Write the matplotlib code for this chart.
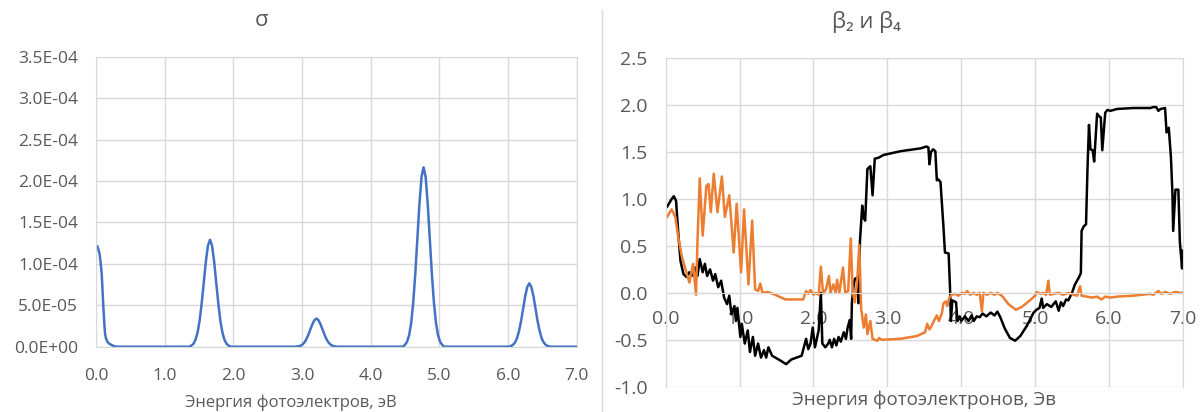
import numpy as np
import matplotlib
matplotlib.use('Agg')
import matplotlib.pyplot as plt
from matplotlib.ticker import FuncFormatter, MultipleLocator

plt.rcParams['font.family'] = ['Open Sans', 'DejaVu Sans']

# cross section, in units of 1e-4
sigma_x = [0.02, 0.05, 0.065, 0.083, 0.095, 0.107, 0.12, 0.131, 0.145, 0.165, 0.195, 0.228, 0.26, 0.30,
           1.36, 1.39, 1.42, 1.45, 1.48, 1.51, 1.54, 1.57, 1.60, 1.63, 1.66, 1.69, 1.72, 1.75, 1.78, 1.81,
           1.84, 1.87, 1.90, 1.93, 1.96,
           2.91, 2.94, 2.97, 3.00, 3.03, 3.06, 3.09, 3.12, 3.15, 3.18, 3.21, 3.24, 3.27, 3.30, 3.33, 3.36,
           3.39, 3.42, 3.45, 3.48, 3.51,
           4.47, 4.50, 4.53, 4.56, 4.59, 4.62, 4.65, 4.68, 4.71, 4.74, 4.77, 4.80, 4.83, 4.86, 4.89, 4.92,
           4.95, 4.98, 5.01, 5.04, 5.07,
           6.01, 6.04, 6.07, 6.10, 6.13, 6.16, 6.19, 6.22, 6.25, 6.28, 6.31, 6.34, 6.37, 6.40, 6.43, 6.46,
           6.49, 6.52, 6.55, 6.58, 6.61, 7.0]
sigma_e4 = [1.21, 1.13, 1.03, 0.885, 0.68, 0.48, 0.30, 0.16, 0.10, 0.06, 0.035, 0.02, 0.008, 0.0,
            0.0, 0.014, 0.036, 0.085, 0.174, 0.32, 0.53, 0.78, 1.03, 1.22, 1.29, 1.22, 1.03, 0.78, 0.53, 0.32,
            0.174, 0.085, 0.036, 0.014, 0.0,
            0.0, 0.004, 0.0095, 0.022, 0.046, 0.085, 0.14, 0.205, 0.27, 0.32, 0.34, 0.32, 0.27, 0.205, 0.14, 0.085,
            0.046, 0.022, 0.0095, 0.004, 0.0,
            0.0, 0.024, 0.06, 0.14, 0.29, 0.54, 0.89, 1.31, 1.73, 2.05, 2.165, 2.05, 1.73, 1.31, 0.89, 0.54,
            0.29, 0.14, 0.06, 0.024, 0.0,
            0.0, 0.008, 0.021, 0.05, 0.10, 0.19, 0.31, 0.46, 0.61, 0.72, 0.765, 0.72, 0.61, 0.46, 0.31, 0.19,
            0.10, 0.05, 0.021, 0.008, 0.0, 0.0]

# beta_2 (black)
b2_x = [0.02, 0.08, 0.11, 0.14, 0.17, 0.20, 0.24, 0.28, 0.32, 0.35, 0.40, 0.43, 0.46, 0.50, 0.53, 0.56,
        0.60, 0.64, 0.67, 0.71, 0.75, 0.79, 0.83, 0.86, 0.89, 0.93, 0.95, 0.97, 1.01, 1.03, 1.07, 1.11,
        1.14, 1.18, 1.21, 1.25, 1.29, 1.33, 1.36, 1.39, 1.44, 1.55, 1.63, 1.70, 1.77, 1.84, 1.87, 1.90,
        1.93, 1.96, 1.99, 2.02, 2.07, 2.10, 2.12, 2.16, 2.20, 2.22, 2.25, 2.28, 2.31, 2.34, 2.37, 2.41,
        2.44, 2.46, 2.49, 2.51, 2.52, 2.54, 2.56, 2.59, 2.61, 2.63, 2.66, 2.68, 2.70, 2.73, 2.77, 2.80,
        2.83, 2.88, 2.95, 3.18, 3.45, 3.53, 3.556, 3.57, 3.59, 3.62, 3.65, 3.67, 3.69, 3.72, 3.76, 3.78,
        3.83, 3.85, 3.86, 3.88, 3.93, 3.95, 3.98, 4.00, 4.05, 4.10, 4.14, 4.17, 4.21, 4.25, 4.29, 4.34,
        4.40, 4.45, 4.49, 4.53, 4.59, 4.66, 4.73, 4.80, 4.89, 4.98, 5.02, 5.06, 5.09, 5.11, 5.16, 5.22,
        5.25, 5.28, 5.32, 5.35, 5.38, 5.42, 5.45, 5.50, 5.54, 5.59, 5.62, 5.63, 5.66, 5.69, 5.71, 5.73,
        5.75, 5.78, 5.80, 5.84, 5.87, 5.89, 5.91, 5.95, 5.98, 6.02, 6.11, 6.33, 6.56, 6.60, 6.64, 6.67,
        6.70, 6.76, 6.78, 6.81, 6.84, 6.86, 6.87, 6.90, 6.94, 6.96, 6.99, 7.00]
b2_y = [0.92, 1.00, 1.03, 0.98, 0.63, 0.34, 0.20, 0.17, 0.22, 0.18, 0.27, 0.18, 0.36, 0.22, 0.31, 0.18,
        0.25, 0.13, 0.20, 0.06, 0.13, -0.05, -0.12, -0.03, -0.23, -0.14, -0.30, -0.16, -0.47, -0.33, -0.54, -0.40,
        -0.63, -0.47, -0.67, -0.54, -0.69, -0.61, -0.69, -0.58, -0.67, -0.72, -0.76, -0.71, -0.69, -0.67, -0.58, -0.49,
        -0.60, -0.54, -0.37, -0.58, -0.40, 0.00, -0.54, -0.58, -0.54, -0.50, -0.58, -0.49, -0.56, -0.47, -0.52, -0.42,
        -0.49, -0.38, -0.29, -0.49, -0.11, 0.06, 0.15, 0.16, -0.11, 0.56, 0.93, 0.80, 0.77, 1.32, 1.35, 1.04,
        1.43, 1.44, 1.47, 1.51, 1.54, 1.56, 1.55, 1.37, 1.50, 1.53, 1.51, 1.20, 1.21, 1.18, 0.70, 0.43,
        0.42, 0.02, -0.30, -0.08, -0.10, -0.30, -0.25, -0.30, -0.25, -0.30, -0.24, -0.30, -0.25, -0.26, -0.22, -0.25,
        -0.21, -0.24, -0.20, -0.26, -0.38, -0.48, -0.51, -0.46, -0.35, -0.21, -0.18, -0.16, -0.06, -0.16, -0.12, -0.15,
        -0.12, -0.09, -0.19, -0.10, -0.14, -0.07, -0.08, 0.00, 0.09, 0.16, 0.21, 0.66, 0.71, 0.73, 1.33, 1.79,
        1.53, 1.52, 1.40, 1.91, 1.88, 1.87, 1.52, 1.92, 1.95, 1.94, 1.96, 1.97, 1.97, 1.98, 1.98, 1.94,
        1.96, 1.97, 1.71, 1.76, 1.44, 1.05, 0.66, 1.10, 1.10, 0.55, 0.26, 0.45]

# beta_4 (orange)
b4_x = [0.02, 0.08, 0.13, 0.17, 0.22, 0.28, 0.32, 0.37, 0.41, 0.43, 0.46, 0.50, 0.55, 0.58, 0.61, 0.65,
        0.70, 0.76, 0.80, 0.86, 0.92, 0.96, 1.02, 1.06, 1.12, 1.17, 1.21, 1.25, 1.28, 1.31, 1.38, 1.48,
        1.62, 1.86, 1.90, 1.93, 1.96, 2.00, 2.03, 2.07, 2.10, 2.13, 2.17, 2.21, 2.23, 2.27, 2.30, 2.32,
        2.35, 2.40, 2.43, 2.47, 2.505, 2.53, 2.56, 2.595, 2.62, 2.645, 2.68, 2.71, 2.73, 2.77, 2.80, 2.865,
        2.89, 2.92, 3.17, 3.40, 3.51, 3.54, 3.57, 3.60, 3.63, 3.67, 3.70, 3.74, 3.76, 3.795, 3.81, 3.84,
        3.87, 3.92, 3.96, 4.01, 4.05, 4.08, 4.12, 4.17, 4.21, 4.25, 4.28, 4.30, 4.35, 4.40, 4.45, 4.49,
        4.55, 4.64, 4.74, 4.82, 4.93, 5.00, 5.02, 5.07, 5.11, 5.15, 5.18, 5.20, 5.25, 5.32, 5.38, 5.45,
        5.52, 5.57, 5.61, 5.63, 5.70, 5.77, 5.84, 5.90, 5.95, 6.02, 6.11, 6.33, 6.56, 6.60, 6.67, 6.71,
        6.76, 6.83, 6.90, 6.96, 7.00]
b4_y = [0.81, 0.89, 0.81, 0.59, 0.38, 0.22, 0.11, 0.31, -0.02, 0.56, 1.22, 0.61, 1.14, 1.16, 0.86, 1.27,
        0.86, 1.24, 0.81, 1.04, 0.43, 0.95, 0.22, 0.89, 0.09, 0.77, 0.04, 0.02, 0.10, 0.00, 0.01, -0.02,
        -0.07, -0.07, 0.02, -0.01, 0.03, -0.02, 0.00, -0.02, 0.28, -0.01, 0.04, 0.18, 0.00, 0.09, 0.00, 0.14,
        0.00, 0.27, 0.00, 0.02, 0.58, 0.02, -0.10, 0.16, 0.51, -0.16, -0.37, -0.23, -0.44, -0.30, -0.49, -0.51,
        -0.48, -0.50, -0.49, -0.46, -0.42, -0.33, -0.39, -0.35, -0.30, -0.24, -0.30, -0.21, -0.11, -0.09, -0.14, -0.05,
        -0.02, -0.01, -0.03, 0.00, -0.01, 0.02, -0.02, 0.00, -0.02, 0.00, -0.20, 0.00, -0.02, 0.00, -0.02, 0.00,
        -0.03, -0.12, -0.18, -0.15, -0.08, -0.03, 0.01, -0.01, 0.00, -0.02, 0.13, -0.02, -0.01, 0.00, -0.02, 0.00,
        -0.02, -0.03, 0.07, -0.03, -0.04, -0.05, -0.04, -0.07, -0.04, -0.05, -0.04, -0.03, -0.01, -0.02, 0.02, -0.01,
        0.01, -0.01, 0.01, 0.00, 0.00]

text_color = '#595959'
grid_color = '#d9d9d9'

fig = plt.figure(figsize=(12.03, 4.12), dpi=100)

# left chart: sigma
ax1 = fig.add_axes([0.0798, 0.1585, 0.3996, 0.7039])
ax1.plot(sigma_x, np.array(sigma_e4) * 1e-4, color='#4472C4', lw=1.8)
ax1.set_xlim(0, 7)
ax1.set_ylim(0, 3.5e-4)
ax1.xaxis.set_major_locator(MultipleLocator(1))
ax1.yaxis.set_major_locator(MultipleLocator(5e-5))
ax1.xaxis.set_major_formatter(FuncFormatter(lambda v, p: f'{v:.1f}'))
ax1.yaxis.set_major_formatter(FuncFormatter(lambda v, p: f'{v:.1E}'))
ax1.grid(True, color=grid_color, lw=1)
ax1.set_axisbelow(True)
for s in ax1.spines.values():
    s.set_color(grid_color)
ax1.tick_params(length=0, labelsize=12.5, colors=text_color)
ax1.tick_params(axis='y', pad=13)
ax1.tick_params(axis='x', pad=15)
fig.text(291 / 1203, 1 - 403 / 412, 'Энергия фотоэлектров, эВ', fontsize=12,
         color=text_color, ha='center', va='center')
fig.text(262 / 1203, 1 - 21 / 412, 'σ', fontsize=16, color=text_color, ha='center', va='center')

# right chart: beta_2 and beta_4
ax2 = fig.add_axes([0.5534, 0.0614, 0.4298, 0.7971])
ax2.plot(b2_x, b2_y, color='black', lw=1.8)
ax2.plot(b4_x, b4_y, color='#ED7D31', lw=1.8)
ax2.set_xlim(0, 7)
ax2.set_ylim(-1.0, 2.5)
ax2.xaxis.set_major_locator(MultipleLocator(1))
ax2.yaxis.set_major_locator(MultipleLocator(0.5))
ax2.xaxis.set_major_formatter(FuncFormatter(lambda v, p: f'{v:.1f}'))
ax2.yaxis.set_major_formatter(FuncFormatter(lambda v, p: f'{v:.1f}'))
ax2.grid(True, color=grid_color, lw=1)
ax2.set_axisbelow(True)
for s in ax2.spines.values():
    s.set_color(grid_color)
ax2.spines['bottom'].set_position(('data', 0))
ax2.tick_params(length=0, labelsize=14, colors=text_color)
ax2.tick_params(axis='y', pad=13)
ax2.tick_params(axis='x', pad=12)
fig.text(924 / 1203, 1 - 400 / 412, 'Энергия фотоэлектронов, Эв', fontsize=13.5,
         color=text_color, ha='center', va='center')
fig.text(866 / 1203, 1 - 22 / 412, 'β₂ и β₄', fontsize=16, color=text_color, ha='center', va='center')

# divider between the two charts
fig.add_artist(plt.Line2D([602 / 1203, 602 / 1203], [0, 1 - 10 / 412], color=grid_color, lw=1))

fig.savefig('out.png', dpi=100)
